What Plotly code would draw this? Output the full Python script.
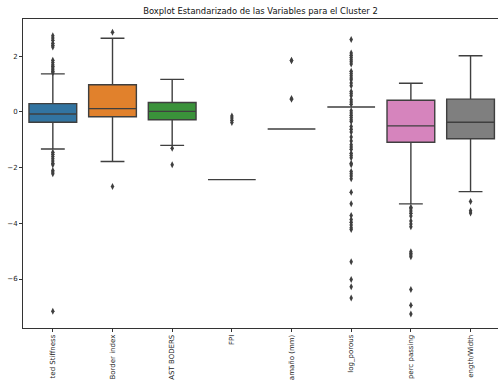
import plotly.graph_objects as go

# Standardized variables (x categories)
categories = ["ted Stiffness", "Border index", "AST BODERS", "FPI",
              "amaño (mm)", "log_porous", "perc passing", "ength/Width"]

# Box statistics per variable
q1_values = [-0.37, -0.17, -0.28, -2.43, -0.61, 0.18, -1.09, -0.96]
median_values = [-0.07, 0.12, 0.02, -2.43, -0.61, 0.18, -0.50, -0.37]
q3_values = [0.30, 0.98, 0.34, -2.43, -0.61, 0.18, 0.42, 0.46]
lower_whiskers = [-1.33, -1.78, -1.20, -2.43, -0.61, 0.18, -3.30, -2.86]
upper_whiskers = [1.37, 2.65, 1.17, -2.43, -0.61, 0.18, 1.03, 2.02]

# Outliers per variable
outliers_stiffness = [2.74, 2.66, 2.58, 2.47, 2.40, 2.33, 1.86, 1.78, 1.70, 1.64,
                      1.58, 1.52, 1.46, 1.41, -1.45, -1.52, -1.60, -1.68, -1.76,
                      -1.84, -1.90, -2.10, -2.16, -2.22, -7.16]
outliers_border = [2.86, -2.68]
outliers_ast = [-1.30, -1.90]
outliers_fpi = [-0.14, -0.22, -0.30, -0.38]
outliers_tamano = [1.84, 1.86, 0.46, 0.48]
outliers_porous = [2.60, 2.12, 2.04, 1.96, 1.88, 1.80, 1.72, 1.46, 1.38, 1.30,
                   1.22, 1.16, 1.04, 0.94, 0.74, 0.66, 0.58, 0.44, 0.36, 0.28,
                   0.04, -0.04, -0.12, -0.20, -0.28, -0.34, -0.52, -0.62, -0.72,
                   -0.90, -1.04, -1.18, -1.26, -1.34, -1.48, -1.56, -1.64, -1.84,
                   -1.90, -2.14, -2.22, -2.30, -2.40, -2.88, -3.30, -3.72, -3.86,
                   -3.96, -4.06, -4.16, -4.22, -5.38, -6.02, -6.28, -6.68]
outliers_passing = [-3.42, -3.48, -3.56, -3.64, -3.74, -3.92, -4.02, -4.12, -5.02,
                    -5.08, -5.14, -5.20, -6.38, -6.94, -7.26]
outliers_ratio = [-3.22, -3.55, -3.63]

outliers = [outliers_stiffness, outliers_border, outliers_ast, outliers_fpi,
            outliers_tamano, outliers_porous, outliers_passing, outliers_ratio]

colors = ["#3274a1", "#e1812c", "#3a923a", "#c03d3e",
          "#9372b2", "#845b53", "#d684bd", "#7f7f7f"]
edge = "#3f3f3f"

fig = go.Figure()
for i, cat in enumerate(categories):
    fig.add_trace(go.Box(
        x=[cat], q1=[q1_values[i]], median=[median_values[i]], q3=[q3_values[i]],
        lowerfence=[lower_whiskers[i]], upperfence=[upper_whiskers[i]],
        fillcolor=colors[i], line=dict(color=edge, width=1.4),
        width=0.8, whiskerwidth=0.5, boxpoints=False, showlegend=False,
    ))
    fig.add_trace(go.Scatter(
        x=[cat] * len(outliers[i]), y=outliers[i], mode="markers",
        marker=dict(symbol="diamond-tall", size=5, color=edge),
        showlegend=False,
    ))

font_family = "DejaVu Sans"
fig.update_layout(
    template="none",
    width=498, height=381,
    margin=dict(l=23, r=0, t=19, b=53, pad=0),
    paper_bgcolor="white", plot_bgcolor="white",
    font=dict(family=font_family, size=7, color="#222222"),
    title=dict(text="Boxplot Estandarizado de las Variables para el Cluster 2",
               x=0.5, xref="paper", xanchor="center",
               y=1 - 11.5 / 381, yref="container", yanchor="middle",
               font=dict(family=font_family, size=8.4, color="#111111")),
    boxmode="overlay",
)
fig.update_xaxes(
    categoryorder="array", categoryarray=categories,
    range=[-0.5, 7.46], showgrid=False, zeroline=False,
    showline=True, mirror=True, linecolor="#333333", linewidth=0.8,
    ticks="outside", ticklen=3, tickwidth=0.8, tickcolor="#333333",
    tickangle=-90, automargin=False,
)
fig.update_yaxes(
    range=[-7.76, 3.34], tickvals=[2, 0, -2, -4, -6],
    showgrid=False, zeroline=False,
    showline=True, mirror=False, linecolor="#333333", linewidth=0.8,
    ticks="outside", ticklen=3, tickwidth=0.8, tickcolor="#333333",
    automargin=False,
)

fig.write_html("out.html")
